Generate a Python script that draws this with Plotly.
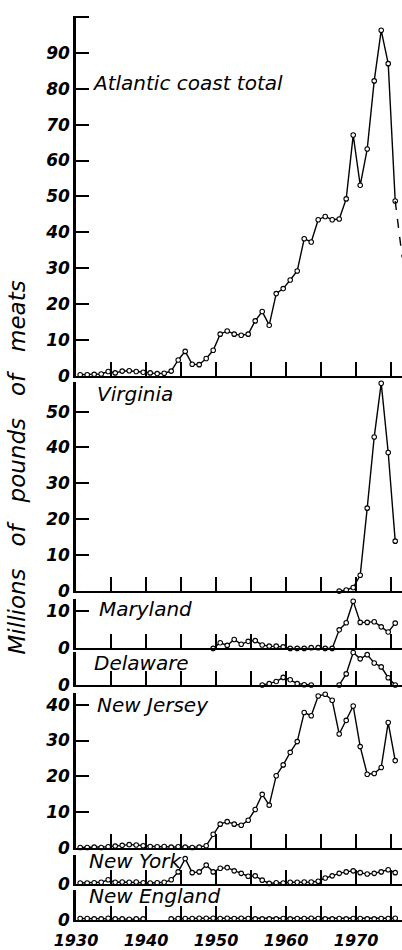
import plotly.graph_objects as go

# ---------------- data (millions of pounds of meats) ----------------
years = list(range(1930, 1976))

total = [0.3, 0.3, 0.4, 0.5, 1.2, 0.8, 1.3, 1.4, 1.2, 1.0, 0.8, 0.6, 0.7, 1.3,
         4.4, 6.8, 3.2, 3.1, 4.8, 7.1, 11.6, 12.5, 11.6, 11.3, 11.6, 15.3, 17.9,
         14.1, 22.9, 24.3, 26.7, 29.2, 38.2, 37.3, 43.5, 44.4, 43.5, 43.7, 49.3,
         67.1, 53.1, 63.2, 82.2, 96.3, 87.0, 48.7]
prelim_years = [1975, 1976]
total_prelim = [48.7, 33.0]

virginia_years = list(range(1967, 1976))
virginia = [0.0, 0.3, 1.0, 4.4, 23.1, 42.9, 57.9, 38.6, 13.9]

maryland_years = list(range(1949, 1976))
maryland = [0.0, 1.5, 0.8, 2.4, 1.1, 1.9, 2.1, 0.9, 0.6, 0.6, 0.4, 0.0, 0.0, 0.0,
            0.2, 0.2, 0.0, 0.0, 5.0, 6.9, 12.7, 7.0, 7.0, 7.2, 5.8, 4.4, 6.8]

delaware_years = list(range(1956, 1976))
delaware = [0.0, 0.4, 1.0, 2.2, 1.5, 0.4, 0.1, 0.0, None, None, None,
            0.0, 3.2, 9.3, 7.5, 8.7, 6.3, 5.2, 2.1, 0.0]

new_jersey = [0.2, 0.2, 0.3, 0.2, 0.4, 0.6, 0.8, 1.0, 0.9, 0.7, 0.5, 0.4, 0.5, 0.3,
              0.4, 0.3, 0.2, 0.3, 0.7, 3.9, 6.7, 7.4, 6.7, 6.4, 7.8, 10.8, 15.0,
              12.0, 20.2, 23.2, 26.7, 29.7, 37.8, 36.9, 42.4, 42.9, 41.2, 31.8,
              35.6, 39.6, 28.3, 20.6, 20.8, 22.5, 35.0, 24.4]

new_york = [0.3, 0.3, 0.4, 0.5, 1.2, 0.5, 0.6, 0.5, 0.6, 0.4, 0.3, 0.4, 0.5, 1.2,
            3.4, 7.1, 3.2, 3.4, 5.3, 3.4, 4.4, 4.6, 3.7, 3.0, 2.2, 2.3, 1.1, 0.2,
            0.4, 0.3, 0.5, 0.5, 0.6, 0.6, 0.8, 1.7, 2.3, 3.0, 3.4, 3.7, 3.2, 2.8,
            3.0, 3.4, 4.0, 3.2]

new_england = [0.4, 0.4, 0.3, 0.3, 0.5, 0.3, 0.3, 0.2, 0.3, 0.3, None, None, None,
               0.3, 0.4, 0.4, 0.4, 0.5, 0.5, 0.5, 0.4, 0.5, 0.4, 0.5, 0.4, 0.3,
               0.3, 0.3, 0.3, 0.4, 0.3, 0.4, 0.4, 0.5, 0.4, 0.3, 0.3, 0.4, 0.3,
               0.4, 0.4, 0.3, 0.3, 0.4, 0.4, 0.5]

panel_names = ["Atlantic coast total", "Virginia", "Maryland", "Delaware",
               "New Jersey", "New York", "New England"]
x_tick_years = [1930, 1935, 1940, 1945, 1950, 1955, 1960, 1965, 1970, 1975]
x_tick_text = ["1930", "", "1940", "", "1950", "", "1960", "", "1970", ""]

# ---------------- layout geometry (pixels) ----------------
W, H = 402, 950
ML, MR, MT, MB = 76, 0, 0, 27
PH = H - MT - MB
OFFSET = 0.6  # points plotted within the year

def fy(py):
    return (PH - (py - MT)) / PH

def fx(px):
    return (px - ML) / (W - ML - MR)

# (bottom px, top px, y max, tick values, tick labels)
panels = [
    (377, 16, 100.3, list(range(0, 101, 10)), [str(v) for v in range(0, 91, 10)] + [""]),
    (593, 383, 58.3, list(range(0, 51, 10)), [str(v) for v in range(0, 51, 10)]),
    (650.5, 601, 13.3, [0, 10], ["0", "10"]),
    (687.3, 654, 9.5, [0], ["0"]),
    (851, 695, 43.3, list(range(0, 41, 10)), [str(v) for v in range(0, 41, 10)]),
    (887, 858, 8.05, [0], ["0"]),
    (923, 893, 8.3, [0], ["0"]),
]

series = [
    (years, total),
    (virginia_years, virginia),
    (maryland_years, maryland),
    (delaware_years, delaware),
    (years, new_jersey),
    (years, new_york),
    (years, new_england),
]

FONT = "DejaVu Sans"
fig = go.Figure()

marker = dict(symbol="circle", size=4.5, color="white",
              line=dict(color="black", width=1.1))

for i, (xs, ys) in enumerate(series):
    ax = "" if i == 0 else str(i + 1)
    fig.add_trace(go.Scatter(
        x=[x + OFFSET for x in xs], y=ys, mode="lines+markers",
        line=dict(color="black", width=1.4), marker=marker,
        xaxis="x" + ax, yaxis="y" + ax, cliponaxis=False,
        connectgaps=False, showlegend=False, hoverinfo="skip"))

fig.add_trace(go.Scatter(
    x=[x + OFFSET for x in prelim_years], y=total_prelim, mode="lines",
    line=dict(color="black", width=1.4, dash="dash"),
    xaxis="x", yaxis="y", showlegend=False, hoverinfo="skip"))

layout = dict(
    width=W, height=H,
    margin=dict(l=ML, r=MR, t=MT, b=MB),
    paper_bgcolor="white", plot_bgcolor="white",
    showlegend=False,
)

tick_font = dict(family=FONT, size=17, color="black", style="italic", weight="bold")

for i, (bot, top, ymax, tv, tt) in enumerate(panels):
    ax = "" if i == 0 else str(i + 1)
    last = i == len(panels) - 1
    layout["xaxis" + ax] = dict(
        domain=[0, 1], anchor="y" + ax, range=[1930, 1976.57],
        showline=True, linecolor="black", linewidth=2,
        ticks="inside", ticklen=14, tickwidth=1.5, tickcolor="black",
        tickvals=x_tick_years, ticktext=x_tick_text,
        showticklabels=last, showgrid=False, zeroline=False,
        ticklabelstandoff=5,
        tickfont=dict(family=FONT, size=16, color="black", style="italic", weight="bold"),
    )
    layout["yaxis" + ax] = dict(
        domain=[fy(bot), fy(top)], anchor="x" + ax, range=[0, ymax],
        showline=True, linecolor="black", linewidth=2.5,
        ticks="inside", ticklen=13, tickwidth=1.5, tickcolor="black",
        tickvals=tv, ticktext=tt, showgrid=False, zeroline=False,
        tickfont=tick_font,
    )

fig.update_layout(**layout)

label_pos = [(90, 83), (95, 395), (97, 611), (92, 665), (95, 707), (87, 864), (87, 899)]
for name, (px, py) in zip(panel_names, label_pos):
    fig.add_annotation(
        text=name, xref="paper", yref="paper", x=fx(px), y=fy(py),
        xanchor="left", yanchor="middle", showarrow=False,
        font=dict(family=FONT, size=20, color="black", style="italic"))

fig.add_annotation(
    text="Millions\u00a0\u00a0 of\u00a0\u00a0 pounds\u00a0\u00a0 of\u00a0\u00a0 meats",
    xref="paper", yref="paper", x=fx(17), y=fy(469), textangle=-90,
    xanchor="center", yanchor="middle", showarrow=False,
    font=dict(family=FONT, size=23, color="black", style="italic"))

fig.write_html("out.html", config={"displayModeBar": False},
               post_script="document.body.style.margin='0';document.body.style.overflow='hidden';")
